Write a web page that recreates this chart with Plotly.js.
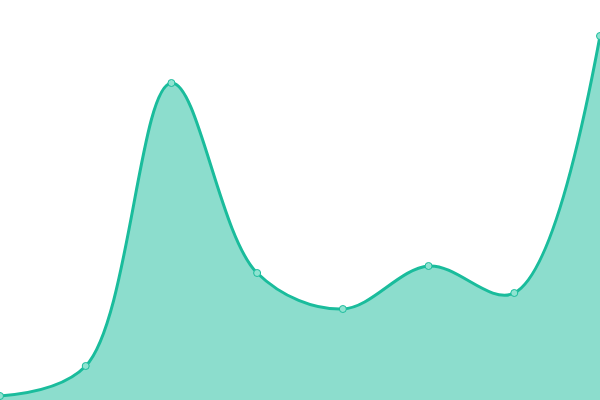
<!DOCTYPE html>
<html>
<head>
<meta charset="utf-8">
<script src="https://cdn.plot.ly/plotly-3.0.1.min.js"></script>
<style>
  html, body { margin: 0; padding: 0; background: #ffffff; }
  #chart { width: 600px; height: 400px; }
</style>
</head>
<body>
<div id="chart"></div>
<script>
  // data
  const steps = [0, 1, 2, 3, 4, 5, 6, 7]
  const values = [4, 34, 317, 127, 91, 134, 107, 364]

  const trace = {
    x: steps,
    y: values,
    type: 'scatter',
    mode: 'lines+markers',
    fill: 'tozeroy',
    fillcolor: 'rgba(26, 188, 156, 0.5)',
    line: { color: '#1abc9c', width: 3, shape: 'spline', smoothing: 1 },
    marker: {
      size: 7,
      color: '#8fe3d1',
      line: { color: '#1abc9c', width: 1 }
    },
    cliponaxis: false,
    hoverinfo: 'none'
  }

  const layout = {
    width: 600,
    height: 400,
    margin: { l: 0, r: 0, t: 0, b: 0 },
    xaxis: { range: [0, 7], visible: false, fixedrange: true },
    yaxis: { range: [0, 400], visible: false, fixedrange: true },
    showlegend: false,
    plot_bgcolor: '#ffffff',
    paper_bgcolor: '#ffffff'
  }

  Plotly.newPlot('chart', [trace], layout, { displayModeBar: false, staticPlot: true })
</script>
</body>
</html>
